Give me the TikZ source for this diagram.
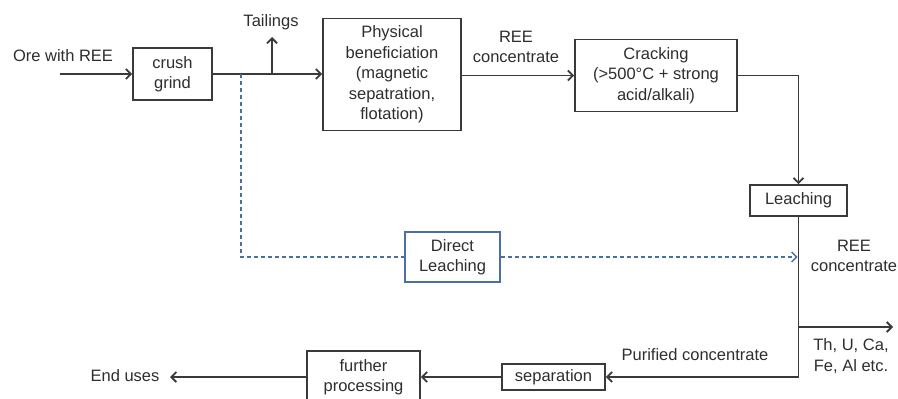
\documentclass[tikz,border=0pt]{standalone}
\usepackage{fontspec}
\setmainfont{Liberation Sans}
\usetikzlibrary{arrows.meta}
\definecolor{ln}{HTML}{3A3A3A}
\definecolor{tx}{HTML}{2E2E2E}
\definecolor{bl}{HTML}{4A6FA5}
\begin{document}
\begin{tikzpicture}[x=1pt,y=-1pt,
  every node/.style={font=\fontsize{16.5}{20.5}\selectfont, text=tx, align=center, inner sep=0pt},
  box/.style={draw=ln, line width=1.8pt, minimum width=#1},
  flow/.style={draw=ln, line width=1.8pt, -{Straight Barb[length=5pt,width=10pt]}},
  plain/.style={draw=ln, line width=1.8pt},
  dflow/.style={draw=bl, line width=1.4pt, dash pattern=on 4pt off 3pt, -{Straight Barb[length=5pt,width=10pt]}},
  dplain/.style={draw=bl, line width=1.4pt, dash pattern=on 4pt off 3pt}]
\useasboundingbox (0,0) rectangle (898,399);
\fill[white] (0,0) rectangle (898,399);
% boxes
\node[box=79pt, minimum height=52pt] (crush) at (172.5,74) {crush\\grind};
\node[box=138pt, minimum height=112pt] (phys) at (392,74.5) {Physical\\beneficiation\\(magnetic\\sepatration,\\flotation)};
\node[box=162pt, minimum height=72pt] (crack) at (656,75.5) {Cracking\\(>500°C + strong\\acid/alkali)};
\node[box=97pt, minimum height=31pt] (leach) at (798.5,200.5) {Leaching};
\node[draw=bl, line width=1.4pt, minimum width=95pt, minimum height=50pt] (direct) at (452.5,257) {Direct\\Leaching};
\node[box=103pt, minimum height=26pt] (sep) at (553.5,377) {separation};
\node[box=113pt, minimum height=52pt] (further) at (363.5,377) {further\\processing};
% labels
\node (ore) at (63,56) {Ore with REE};
\node (tail) at (271,22) {Tailings};
\node (reec) at (516,47) {REE\\concentrate};
\node (reec2) at (854,256) {REE\\concentrate};
\node (imp) at (851,356) {Th, U, Ca,\\Fe, Al etc.};
\node (pur) at (695,355) {Purified concentrate};
\node (end) at (125,376) {End uses};
% coordinates
\coordinate (in) at (60,74);
\coordinate (tb) at (272,74);
\coordinate (tt) at (272,37);
\coordinate (db) at (241,74);
\coordinate (br) at (799,327);
\coordinate (brend) at (893,327);
\coordinate (eu) at (170,377);
% connectors
\draw[flow] (in) -- (crush.west);
\draw[flow] (crush.east) -- (crush.east -| phys.west);
\draw[flow] (tb) -- (tt);
\draw[flow] (phys.east |- crack.west) -- (crack.west);
\draw[flow] (crack.east) -| (leach.north);
\draw[flow] (leach.south) |- (sep.east);
\draw[flow] (br) -- (brend);
\draw[flow] (sep.west) -- (further.east);
\draw[flow] (further.west) -- (eu);
\draw[dplain] (db) |- (direct.west);
\draw[dflow] (direct.east) -- ([xshift=-1pt]leach.south |- direct.east);
\end{tikzpicture}
\end{document}
